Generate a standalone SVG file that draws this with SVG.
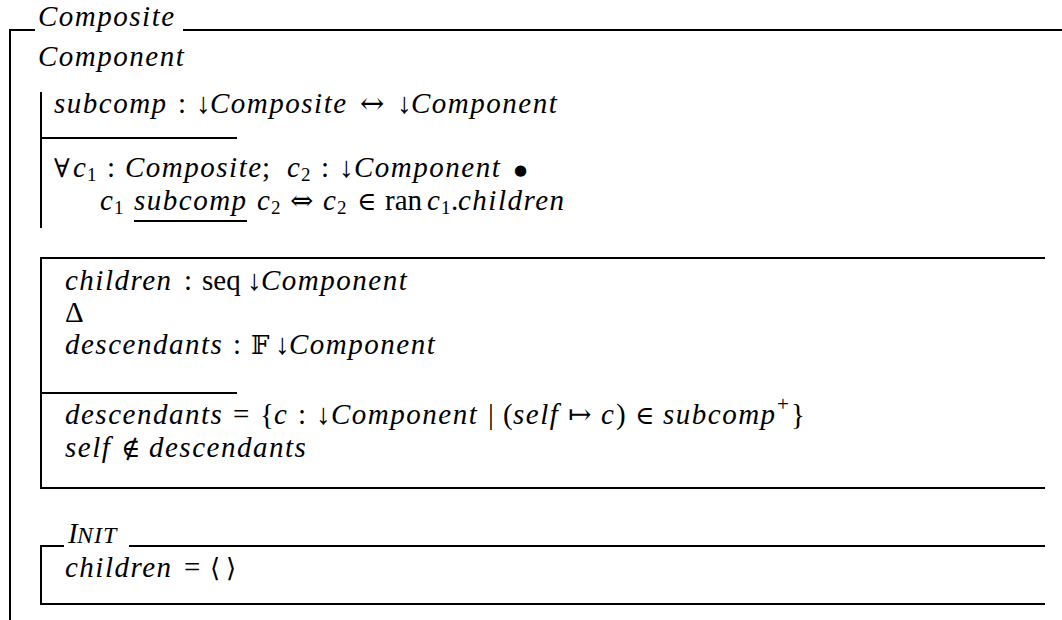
<svg xmlns="http://www.w3.org/2000/svg" width="1062" height="620" viewBox="0 0 1062 620">
<style>
.ln { stroke:#000; stroke-width:2; fill:none; stroke-linecap:butt; }
text { font-family:"Liberation Serif","DejaVu Serif",serif; font-size:29px; fill:#000; }
.it { font-style:italic; letter-spacing:1.5px; }
.sub { font-size:19px; font-style:normal; letter-spacing:0; }
.sym { font-family:"DejaVu Serif","DejaVu Sans",serif; font-size:26px; font-style:normal; }
.dot { font-family:"DejaVu Sans",sans-serif; font-size:15px; }
</style>
<rect x="0" y="0" width="1062" height="620" fill="#fff"/>
<g id="connectors"></g>

<g id="class-Composite">
  <line class="ln" x1="9" y1="30" x2="35" y2="30"/>
  <line class="ln" x1="183" y1="30" x2="1062" y2="30"/>
  <line class="ln" x1="10" y1="29" x2="10" y2="620"/>
  <text x="38" y="26" class="it">Composite</text>
  <text x="38" y="66" class="it">Component</text>
</g>

<g id="axdef-subcomp">
  <line class="ln" x1="41" y1="92" x2="41" y2="228"/>
  <line class="ln" x1="40" y1="138" x2="237" y2="138"/>
  <text y="113"><tspan x="54" class="it">subcomp</tspan><tspan x="178">:</tspan><tspan x="196">↓</tspan><tspan x="210" class="it">Composite</tspan><tspan x="360" class="sym" style="font-size:29px">↔</tspan><tspan x="397">↓</tspan><tspan x="411" class="it">Component</tspan></text>
  <text y="177"><tspan x="54" class="sym">∀</tspan><tspan x="73" class="it">c</tspan><tspan x="87" y="181" class="sub">1</tspan><tspan x="107" y="177">:</tspan><tspan x="125" y="177" class="it">Composite</tspan><tspan x="262">;</tspan><tspan x="287" class="it">c</tspan><tspan x="301" y="181" class="sub">2</tspan><tspan x="321" y="177">:</tspan><tspan x="339">↓</tspan><tspan x="354" class="it">Component</tspan><tspan x="514" y="175" class="dot">●</tspan></text>
  <text y="210"><tspan x="100" class="it">c</tspan><tspan x="114" y="214" class="sub">1</tspan><tspan x="134" y="210" class="it">subcomp</tspan><tspan x="257" class="it">c</tspan><tspan x="271" y="214" class="sub">2</tspan><tspan x="290" y="210" class="sym" style="font-size:28px">⇔</tspan><tspan x="323" class="it">c</tspan><tspan x="337" y="214" class="sub">2</tspan><tspan x="357" y="210" class="sym">∈</tspan><tspan x="385">ran</tspan><tspan x="427" class="it">c</tspan><tspan x="441" y="214" class="sub">1</tspan><tspan x="451" y="210">.</tspan><tspan x="458" class="it">children</tspan></text>
  <line class="ln" x1="134" y1="221" x2="247" y2="221"/>
</g>

<g id="state-schema">
  <line class="ln" x1="40" y1="258" x2="1045" y2="258"/>
  <line class="ln" x1="41" y1="258" x2="41" y2="488"/>
  <line class="ln" x1="40" y1="393" x2="237" y2="393"/>
  <line class="ln" x1="40" y1="488" x2="1045" y2="488"/>
  <text y="290"><tspan x="65" class="it">children</tspan><tspan x="184">:</tspan><tspan x="202">seq</tspan><tspan x="247">↓</tspan><tspan x="261" class="it">Component</tspan></text>
  <text x="65" y="322">Δ</text>
  <text y="354"><tspan x="65" class="it">descendants</tspan><tspan x="233">:</tspan><tspan x="251" class="sym">𝔽</tspan><tspan x="275">↓</tspan><tspan x="289" class="it">Component</tspan></text>
  <text y="424"><tspan x="65" class="it">descendants</tspan><tspan x="233">=</tspan><tspan x="260">{</tspan><tspan x="274" class="it">c</tspan><tspan x="298">:</tspan><tspan x="316">↓</tspan><tspan x="331" class="it">Component</tspan><tspan x="488">|</tspan><tspan x="503">(</tspan><tspan x="513" class="it">self</tspan><tspan x="568" class="sym" style="font-size:28px">↦</tspan><tspan x="601" class="it">c</tspan><tspan x="616">)</tspan><tspan x="635" class="sym">∈</tspan><tspan x="663" class="it">subcomp</tspan><tspan x="777" y="411" class="sub" style="font-size:21px">+</tspan><tspan x="791" y="424">}</tspan></text>
  <text y="457"><tspan x="65" class="it">self</tspan><tspan x="121" class="sym">∉</tspan><tspan x="149" class="it">descendants</tspan></text>
</g>

<g id="init-schema">
  <line class="ln" x1="40" y1="546" x2="64" y2="546"/>
  <line class="ln" x1="129" y1="546" x2="1045" y2="546"/>
  <line class="ln" x1="41" y1="546" x2="41" y2="604"/>
  <line class="ln" x1="40" y1="604" x2="1045" y2="604"/>
  <text y="543"><tspan x="68" class="it" style="letter-spacing:0">I</tspan><tspan x="77" class="it" style="font-size:24px;letter-spacing:1px">NIT</tspan></text>
  <text y="577"><tspan x="65" class="it">children</tspan><tspan x="184">=</tspan><tspan x="210" class="sym">⟨</tspan><tspan x="226" class="sym">⟩</tspan></text>
</g>
</svg>
